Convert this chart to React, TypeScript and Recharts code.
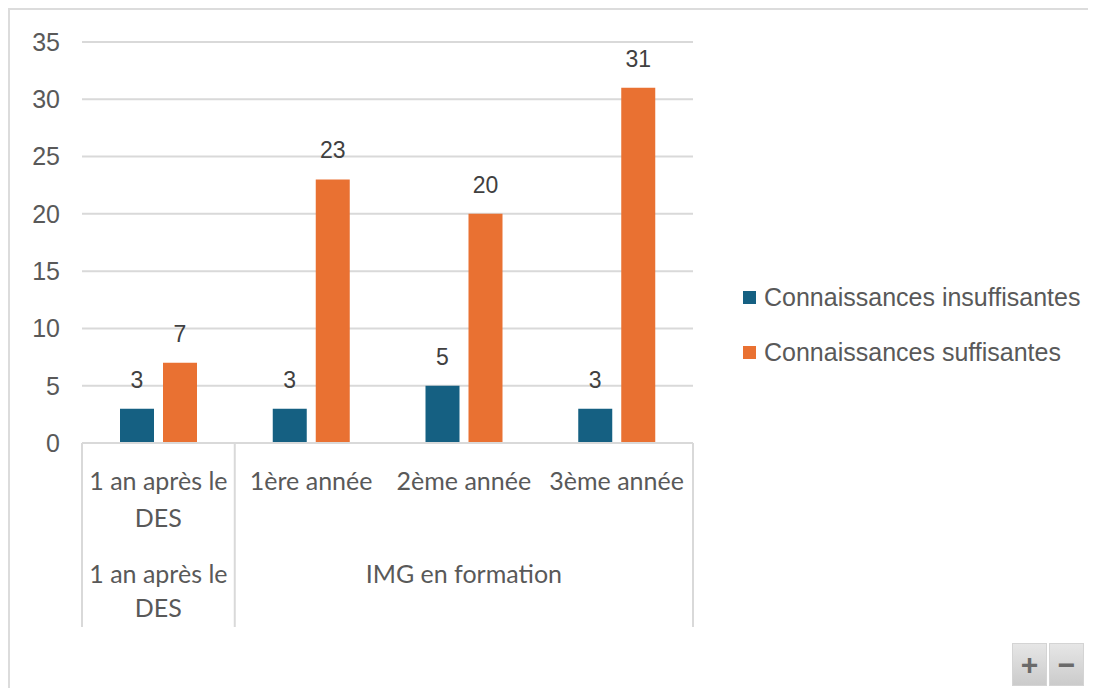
import React from 'react';
import { BarChart, Bar, XAxis, YAxis, CartesianGrid, LabelList, Legend } from 'recharts';

const categories = ['1 an après le DES', '1ère année', '2ème année', '3ème année'];
const groups = ['1 an après le DES', 'IMG en formation', 'IMG en formation', 'IMG en formation'];
const insuffisantes = [3, 3, 5, 3];
const suffisantes = [7, 23, 20, 31];
const yTicks = [0, 5, 10, 15, 20, 25, 30, 35];
const seriesNames = ['Connaissances insuffisantes', 'Connaissances suffisantes'];
const seriesColors = ['#156082', '#E97132'];

const data = categories.map((c, i) => ({
  cat: c,
  group: groups[i],
  insuf: insuffisantes[i],
  suf: suffisantes[i],
}));

const CHART_W = 1088;
const CHART_H = 680;
const PLOT_LEFT = 74;
const PLOT_RIGHT = 685;
const PLOT_TOP = 34;
const PLOT_BOTTOM = 435;
const PLOT_W = PLOT_RIGHT - PLOT_LEFT;
const GRID = '#d9d9d9';
const TXT = '#595959';
const CAT_FONT_FAMILY = 'Lato, "Open Sans", sans-serif';
const CAT_FONT_SIZE = 25;
const SANS = '"Liberation Sans", Arial, sans-serif';

let ctx: CanvasRenderingContext2D | null = null;
function measure(s: string): number {
  if (typeof document === 'undefined') return s.length * CAT_FONT_SIZE * 0.5;
  if (!ctx) ctx = document.createElement('canvas').getContext('2d');
  if (!ctx) return s.length * CAT_FONT_SIZE * 0.5;
  ctx.font = `${CAT_FONT_SIZE}px ${CAT_FONT_FAMILY}`;
  return ctx.measureText(s).width;
}

function wrap(text: string, maxW: number): string[] {
  const words = text.split(' ');
  const lines: string[] = [];
  let cur = '';
  for (const w of words) {
    const test = cur ? cur + ' ' + w : w;
    if (cur && measure(test) > maxW) {
      lines.push(cur);
      cur = w;
    } else {
      cur = test;
    }
  }
  if (cur) lines.push(cur);
  return lines;
}

const WrappedLabel = ({ x, y, text, maxW, lineH }: any) => {
  const lines = wrap(text, maxW);
  return (
    <text
      x={x}
      y={y}
      textAnchor="middle"
      fill={TXT}
      style={{ fontFamily: CAT_FONT_FAMILY, fontSize: CAT_FONT_SIZE }}
    >
      {lines.map((l, k) => (
        <tspan key={k} x={x} dy={k === 0 ? 0 : lineH}>
          {l}
        </tspan>
      ))}
    </text>
  );
};

const XTick = (props: any) => {
  const { x, y, payload } = props;
  const i = payload.index;
  const n = categories.length;
  const bw = PLOT_W / n;
  const left = x - bw / 2;
  const right = x + bw / 2;
  const isGroupStart = i === 0 || groups[i] !== groups[i - 1];
  const isLast = i === n - 1;
  let end = i;
  while (end + 1 < n && groups[end + 1] === groups[i]) end++;
  const span = end - i + 1;
  const gcx = left + (span * bw) / 2;
  return (
    <g>
      {isGroupStart && (
        <line x1={left} x2={left} y1={y} y2={y + 184} stroke={GRID} strokeWidth={2} />
      )}
      {isLast && (
        <line x1={right} x2={right} y1={y} y2={y + 184} stroke={GRID} strokeWidth={2} />
      )}
      <WrappedLabel x={x} y={y + 47} text={categories[i]} maxW={bw - 8} lineH={37} />
      {isGroupStart && (
        <WrappedLabel x={gcx} y={y + 140} text={groups[i]} maxW={span * bw - 8} lineH={34} />
      )}
    </g>
  );
};

const LegendContent = () => (
  <div style={{ fontFamily: SANS, fontSize: 25, color: TXT }}>
    {seriesNames.map((name, i) => (
      <div key={name} style={{ height: 55, display: 'flex', alignItems: 'center', whiteSpace: 'nowrap' }}>
        <span style={{ display: 'inline-block', width: 13, height: 13, background: seriesColors[i], marginRight: 8 }} />
        <span>{name}</span>
      </div>
    ))}
  </div>
);

const btn: React.CSSProperties = {
  position: 'absolute',
  top: 635,
  width: 35,
  height: 43,
  background: 'linear-gradient(#e6e6e6, #cbcbcb)',
  border: '1px solid #d4d4d4',
  boxSizing: 'border-box',
  color: '#6a6a6a',
  fontFamily: SANS,
  fontSize: 30,
  fontWeight: 'bold',
  display: 'flex',
  alignItems: 'center',
  justifyContent: 'center',
  lineHeight: 1,
};

export default function App() {
  return (
    <div style={{ position: 'relative', width: CHART_W, height: CHART_H, background: '#fff' }}>
      <div
        style={{
          position: 'absolute',
          left: 0,
          top: 0,
          width: CHART_W,
          height: CHART_H,
          borderTop: '2px solid #dcdcdc',
          borderLeft: '2px solid #dcdcdc',
          boxSizing: 'border-box',
        }}
      />
      <div style={{ position: 'absolute', left: 0, top: 0 }}>
        <BarChart
          width={CHART_W}
          height={CHART_H}
          data={data}
          margin={{ top: PLOT_TOP, right: CHART_W - PLOT_RIGHT, left: 0, bottom: 0 }}
          barGap={9}
        >
          <CartesianGrid vertical={false} stroke={GRID} strokeWidth={2} />
          <XAxis
            dataKey="cat"
            height={CHART_H - PLOT_BOTTOM}
            axisLine={{ stroke: GRID, strokeWidth: 2 }}
            tickLine={false}
            tickSize={0}
            tickMargin={0}
            interval={0}
            tick={<XTick />}
          />
          <YAxis
            width={PLOT_LEFT}
            domain={[0, 35]}
            ticks={yTicks}
            axisLine={false}
            tickLine={false}
            tickSize={0}
            tickMargin={22}
            tick={{ fill: TXT, fontSize: 25, fontFamily: SANS }}
          />
          <Legend
            layout="horizontal"
            verticalAlign="middle"
            align="center"
            content={<LegendContent />}
            wrapperStyle={{ left: 735, top: 262, width: 345, height: 110 }}
          />
          <Bar dataKey="insuf" name={seriesNames[0]} fill={seriesColors[0]} barSize={34} isAnimationActive={false}>
            <LabelList dataKey="insuf" position="top" offset={21} fill="#404040" fontSize={23} fontFamily={SANS} />
          </Bar>
          <Bar dataKey="suf" name={seriesNames[1]} fill={seriesColors[1]} barSize={34} isAnimationActive={false}>
            <LabelList dataKey="suf" position="top" offset={21} fill="#404040" fontSize={23} fontFamily={SANS} />
          </Bar>
        </BarChart>
      </div>
      <div style={{ ...btn, left: 1004 }}>+</div>
      <div style={{ ...btn, left: 1041 }}>−</div>
    </div>
  );
}
